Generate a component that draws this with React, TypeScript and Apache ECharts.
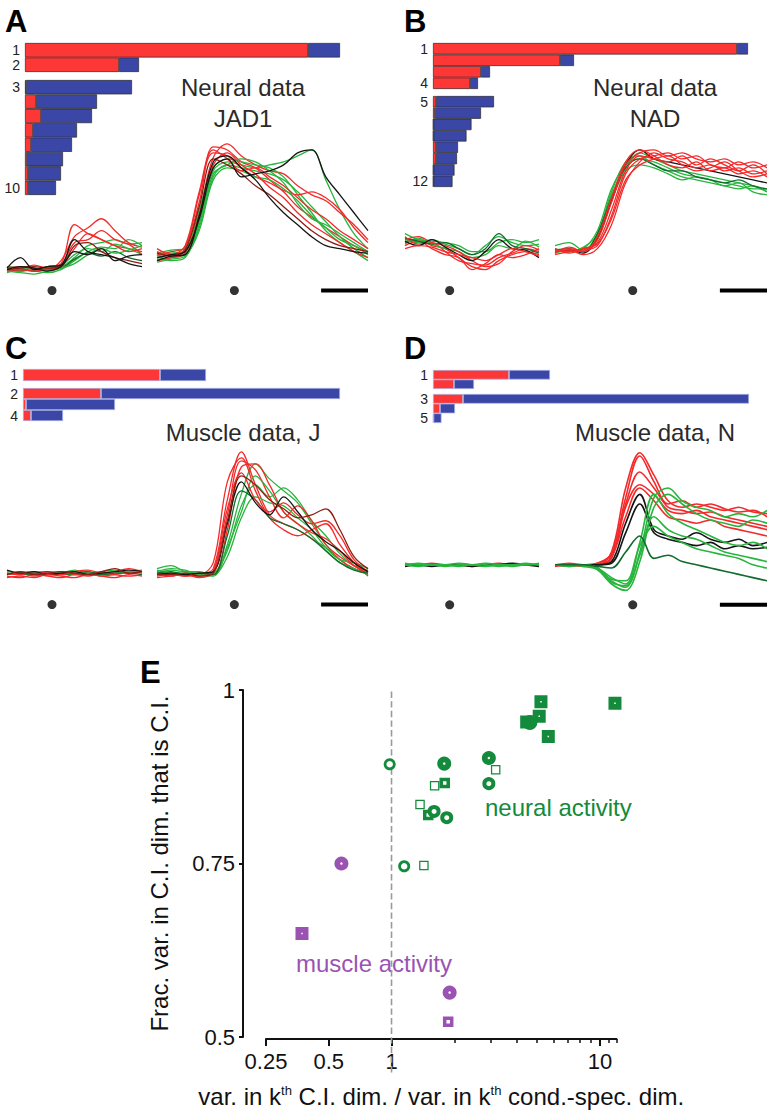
import React, { useEffect, useRef } from 'react';
import * as echarts from 'echarts';

const FONT = '"Liberation Sans", Arial, Helvetica, sans-serif';

// ---------------- Bar data (variance per dimension, arbitrary units) ----------------
const ranksA = ['1', '2', '3', '4', '5', '6', '7', '8', '9', '10'];
const redA = [283, 94, 1, 11, 16, 8, 6, 2, 3, 3];
const blueA = [32, 20, 106, 61, 51, 44, 41, 36, 33, 28];
const labeledA = ['1', '2', '3', '10'];

const ranksB = ['1', '2', '3', '4', '5', '6', '7', '8', '9', '10', '11', '12'];
const redB = [304, 127, 48, 37, 3, 2, 0.5, 0.5, 3, 3, 0.5, 0.5];
const blueB = [11, 14, 9, 8, 58, 46, 38, 33, 22, 21, 21, 19];
const labeledB = ['1', '4', '5', '12'];

const ranksC = ['1', '2', '3', '4'];
const redC = [137, 78, 3, 8];
const blueC = [46, 239, 89, 32];
const labeledC = ['1', '2', '4'];

const ranksD = ['1', '2', '3', '4', '5'];
const redD = [76, 21, 30, 7, 0.5];
const blueD = [41, 20, 286, 15, 8];
const labeledD = ['1', '3', '5'];

// ---------------- Trace data ----------------
const timeLeft = [-100, -70, -40, -10, 20, 50, 80, 110, 140, 170, 200];
const timeRight = [-165, -135, -105, -75, -45, -15, 15, 45, 75, 105, 135, 165, 195, 225, 255, 285];
const eventTime = 0;
const scaleBarTimes = [185, 285];

const traceAL: [string, number[]][] = [
  ['g', [11, 9, 10, 11, 12, 18, 26, 28, 30, 27, 28]],
  ['r', [11, 12, 10, 12, 14, 40, 34, 30, 26, 24, 22]],
  ['g', [8, 10, 9, 8, 10, 16, 22, 25, 24, 30, 26]],
  ['r', [10, 9, 11, 10, 16, 32, 38, 44, 36, 28, 25]],
  ['g', [12, 11, 10, 12, 13, 20, 24, 22, 27, 24, 20]],
  ['r', [12, 11, 13, 11, 13, 28, 30, 36, 30, 27, 20]],
  ['dg', [9, 10, 9, 10, 11, 17, 21, 19, 22, 18, 16]],
  ['r', [9, 10, 9, 10, 12, 24, 34, 30, 26, 22, 24]],
  ['g', [9, 8, 7, 9, 11, 14, 20, 24, 21, 23, 26]],
  ['dr', [10, 11, 12, 11, 12, 26, 28, 22, 18, 16, 14]],
  ['k', [11, 18, 10, 12, 13, 30, 22, 20, 18, 14, 12]],
  ['k', [10, 12, 11, 9, 12, 22, 20, 24, 16, 19, 20]],
];
const traceAR: [string, number[]][] = [
  ['g', [19, 21, 22, 42, 76, 82, 80, 78, 80, 82, 86, 90, 70, 50, 34, 24]],
  ['r', [20, 22, 25, 55, 92, 90, 82, 78, 70, 62, 52, 45, 38, 32, 26, 22]],
  ['g', [17, 18, 20, 38, 72, 80, 78, 76, 74, 70, 62, 52, 42, 32, 24, 18]],
  ['r', [18, 20, 22, 48, 85, 94, 86, 80, 76, 74, 66, 60, 56, 48, 40, 30]],
  ['g', [21, 23, 24, 50, 78, 84, 82, 80, 78, 72, 60, 48, 36, 28, 22, 16]],
  ['r', [22, 19, 24, 60, 88, 86, 78, 72, 68, 63, 60, 62, 58, 50, 38, 28]],
  ['g', [15, 17, 19, 36, 70, 78, 76, 72, 70, 64, 56, 46, 38, 30, 26, 20]],
  ['r', [16, 18, 21, 45, 80, 88, 80, 74, 65, 58, 48, 40, 34, 28, 22, 18]],
  ['g', [20, 16, 18, 40, 74, 80, 84, 82, 76, 68, 54, 44, 40, 34, 28, 22]],
  ['r', [24, 20, 26, 62, 90, 84, 76, 78, 72, 66, 58, 50, 44, 36, 30, 24]],
  ['dr', [21, 19, 23, 52, 84, 80, 74, 66, 60, 52, 44, 36, 30, 26, 24, 22]],
  ['k', [18, 20, 22, 44, 78, 84, 72, 74, 76, 80, 88, 90, 72, 60, 48, 36]],
  ['k', [16, 19, 20, 46, 82, 86, 78, 70, 58, 48, 40, 32, 26, 24, 22, 21]],
];
const traceBL: [string, number[]][] = [
  ['g', [30, 28, 30, 27, 24, 20, 26, 32, 28, 26, 27]],
  ['r', [28, 30, 26, 24, 18, 12, 10, 16, 20, 22, 20]],
  ['g', [34, 30, 29, 28, 26, 22, 22, 28, 30, 28, 30]],
  ['r', [32, 27, 28, 22, 16, 14, 13, 18, 21, 24, 22]],
  ['g', [27, 31, 27, 24, 22, 18, 20, 26, 24, 29, 25]],
  ['r', [26, 29, 24, 20, 18, 10, 14, 20, 18, 20, 24]],
  ['dg', [31, 29, 27, 28, 24, 20, 24, 34, 26, 24, 21]],
  ['r', [30, 32, 28, 26, 22, 16, 12, 14, 22, 26, 23]],
  ['k', [29, 26, 30, 25, 20, 16, 22, 30, 24, 23, 18]],
  ['r', [24, 26, 25, 22, 20, 18, 16, 20, 24, 22, 19]],
];
const traceBR: [string, number[]][] = [
  ['g', [26, 28, 23, 34, 62, 82, 86, 80, 76, 72, 70, 68, 66, 64, 66, 62]],
  ['g', [23, 22, 24, 36, 64, 80, 84, 82, 78, 74, 72, 70, 68, 66, 64, 64]],
  ['g', [21, 23, 22, 30, 56, 76, 80, 78, 74, 70, 72, 70, 66, 68, 62, 60]],
  ['g', [24, 22, 25, 33, 60, 78, 88, 84, 80, 76, 74, 72, 70, 68, 66, 62]],
  ['k', [22, 23, 21, 31, 56, 80, 90, 84, 82, 80, 78, 76, 74, 72, 70, 68]],
  ['dg', [23, 24, 22, 34, 58, 78, 84, 80, 76, 76, 72, 70, 68, 70, 66, 64]],
  ['r', [22, 24, 22, 30, 55, 80, 88, 90, 86, 88, 84, 82, 84, 80, 82, 78]],
  ['r', [20, 22, 23, 26, 46, 74, 84, 86, 88, 84, 86, 80, 78, 82, 78, 80]],
  ['r', [24, 21, 24, 28, 50, 76, 86, 84, 82, 86, 80, 84, 80, 76, 80, 74]],
  ['r', [22, 23, 20, 24, 40, 68, 82, 88, 84, 82, 78, 80, 76, 78, 74, 76]],
  ['r', [21, 25, 22, 32, 58, 82, 90, 86, 80, 78, 82, 76, 78, 74, 76, 72]],
  ['r', [23, 22, 24, 27, 44, 70, 80, 84, 86, 80, 76, 78, 82, 76, 72, 74]],
];
const traceCL: [string, number[]][] = [
  ['g', [10, 12, 11, 10, 11, 13, 11, 12, 13, 11, 12]],
  ['r', [10, 11, 9, 10, 12, 10, 11, 9, 10, 12, 11]],
  ['g', [12, 11, 10, 12, 11, 10, 12, 10, 11, 12, 13]],
  ['r', [9, 8, 10, 9, 8, 10, 9, 11, 10, 9, 10]],
  ['dg', [11, 10, 11, 12, 10, 11, 12, 10, 11, 11, 10]],
  ['r', [11, 10, 12, 11, 10, 12, 13, 11, 12, 14, 12]],
  ['k', [13, 11, 12, 10, 11, 12, 10, 11, 12, 13, 12]],
  ['r', [8, 9, 8, 10, 9, 8, 10, 9, 8, 10, 9]],
  ['dr', [10, 12, 10, 11, 12, 11, 10, 12, 14, 11, 12]],
];
const traceCR: [string, number[]][] = [
  ['g', [14, 16, 12, 11, 10, 30, 64, 84, 74, 66, 58, 44, 30, 20, 14, 12]],
  ['r', [10, 11, 9, 10, 14, 60, 92, 70, 50, 44, 40, 34, 28, 20, 14, 10]],
  ['g', [12, 14, 13, 10, 11, 26, 56, 70, 62, 68, 60, 46, 36, 24, 16, 13]],
  ['r', [9, 10, 10, 9, 12, 50, 86, 80, 62, 48, 56, 46, 30, 22, 16, 12]],
  ['g', [11, 13, 12, 12, 10, 22, 48, 62, 58, 56, 48, 40, 28, 20, 18, 14]],
  ['r', [11, 9, 11, 10, 18, 72, 88, 66, 48, 40, 36, 40, 44, 30, 18, 9]],
  ['g', [13, 11, 12, 10, 9, 28, 52, 76, 66, 52, 44, 36, 26, 18, 14, 10]],
  ['r', [10, 10, 9, 11, 10, 40, 82, 84, 70, 52, 44, 38, 34, 26, 16, 11]],
  ['dg', [11, 12, 10, 11, 10, 36, 66, 60, 48, 44, 40, 34, 26, 18, 13, 11]],
  ['r', [8, 9, 10, 8, 12, 54, 78, 60, 52, 58, 50, 44, 46, 36, 20, 12]],
  ['k', [10, 11, 10, 11, 12, 44, 72, 58, 50, 62, 52, 40, 32, 26, 18, 12]],
  ['dr', [10, 10, 11, 9, 11, 46, 76, 70, 60, 54, 48, 50, 54, 40, 22, 14]],
];
const traceDL: [string, number[]][] = [
  ['r', [22, 22, 23, 22, 22, 21, 22, 23, 22, 22, 22]],
  ['k', [21, 22, 21, 22, 22, 21, 22, 22, 23, 22, 21]],
  ['g', [22, 21, 22, 22, 23, 22, 21, 22, 22, 23, 22]],
  ['g', [23, 22, 22, 21, 22, 22, 23, 22, 21, 22, 22]],
  ['g', [22, 23, 22, 22, 21, 22, 22, 21, 22, 22, 23]],
];
const traceDR: [string, number[]][] = [
  ['r', [22, 22, 22, 22, 30, 70, 92, 78, 62, 58, 60, 58, 56, 58, 55, 54]],
  ['r', [22, 22, 21, 23, 28, 64, 90, 74, 60, 62, 58, 60, 57, 55, 56, 52]],
  ['r', [22, 23, 22, 22, 26, 58, 72, 66, 56, 54, 56, 52, 50, 48, 46, 44]],
  ['r', [21, 22, 22, 22, 27, 52, 70, 62, 52, 50, 48, 50, 46, 44, 42, 40]],
  ['r', [22, 21, 22, 23, 29, 60, 80, 70, 58, 56, 54, 55, 52, 50, 48, 46]],
  ['k', [22, 22, 22, 22, 24, 48, 66, 44, 40, 38, 42, 38, 36, 38, 34, 36]],
  ['k', [22, 22, 22, 22, 23, 42, 60, 42, 38, 36, 34, 36, 32, 34, 32, 33]],
  ['g', [22, 22, 22, 20, 12, 8, 30, 64, 70, 62, 58, 56, 52, 54, 52, 56]],
  ['g', [22, 22, 21, 19, 10, 6, 24, 58, 66, 60, 54, 50, 48, 46, 50, 48]],
  ['g', [22, 22, 22, 20, 14, 10, 36, 66, 54, 48, 44, 40, 36, 34, 36, 32]],
  ['g', [22, 21, 22, 19, 11, 9, 28, 52, 44, 40, 38, 34, 30, 28, 26, 24]],
  ['g', [22, 22, 22, 20, 13, 12, 34, 46, 40, 36, 32, 30, 28, 26, 22, 20]],
  ['dg', [22, 22, 22, 21, 20, 30, 40, 26, 28, 24, 22, 20, 18, 16, 14, 12]],
];

// ---------------- Panel E data ----------------
const neuralRatio = [0.98, 1.79, 2.93, 3.16, 2.93, 1.61, 1.8, 1.37, 1.6, 1.5, 1.84, 1.15, 1.43, 5.21, 5.11, 4.61, 4.45, 5.65, 11.8];
const neuralFrac = [0.893, 0.894, 0.902, 0.885, 0.865, 0.862, 0.866, 0.835, 0.825, 0.82, 0.816, 0.746, 0.747, 0.983, 0.962, 0.953, 0.954, 0.933, 0.981];
const neuralKind = ['cirOpen', 'cirRing', 'cirRing', 'sqOpen', 'cirWide', 'sqOpen', 'sqRing', 'sqOpen', 'cirWide', 'sqRing', 'cirWide', 'cirOpen', 'sqOpen', 'sqFill', 'sqFill', 'cirFill', 'sqFill', 'sqFill', 'sqFill'];
const muscleRatio = [0.575, 0.372, 1.9, 1.87];
const muscleFrac = [0.75, 0.649, 0.564, 0.522];
const muscleKind = ['cirRing', 'sqFill', 'cirRing', 'sqRing'];
const xTickValues = [0.25, 0.5, 1, 10];
const xTickLabels = ['0.25', '0.5', '1', '10'];
const xMinorTicks = [2, 3, 4, 5, 6, 7, 8, 9, 11, 12];
const xRange = [0.25, 12];
const yRange = [0.5, 1];
const yInterval = 0.25;
const refRatio = 1;

// ---------------- Styles / layout ----------------
const COLORS: Record<string, string> = { r: '#f42a2a', g: '#28b53e', k: '#151515', dr: '#8f1d14', dg: '#106b2d' };
const BAR_RED = '#fd3636';
const BAR_BLUE = '#3a47a6';
const GREEN = '#138a3c';
const PURPLE = '#9b53b3';

const KIND_STYLE: Record<string, { sym: string; D: number; h: number }> = {
  sqFill: { sym: 'rect', D: 13, h: 1.5 },
  sqRing: { sym: 'rect', D: 10.5, h: 3.5 },
  sqOpen: { sym: 'rect', D: 9.5, h: 7 },
  cirFill: { sym: 'circle', D: 15, h: 0 },
  cirRing: { sym: 'circle', D: 14, h: 2.5 },
  cirWide: { sym: 'circle', D: 13, h: 5 },
  cirOpen: { sym: 'circle', D: 12, h: 6.5 },
};

const barPanels = [
  { ranks: ranksA, red: redA, blue: blueA, labeled: labeledA, left: 25, border: '#2a2a2a', groups: [{ top: 43, height: 29, n: 2 }, { top: 80, height: 115, n: 8 }] },
  { ranks: ranksB, red: redB, blue: blueB, labeled: labeledB, left: 433, border: '#2a2a2a', groups: [{ top: 43, height: 46, n: 4 }, { top: 96, height: 91, n: 8 }] },
  { ranks: ranksC, red: redC, blue: blueC, labeled: labeledC, left: 23, border: '#a9b2e6', groups: [{ top: 369, height: 12, n: 1 }, { top: 388, height: 33, n: 3 }] },
  { ranks: ranksD, red: redD, blue: blueD, labeled: labeledD, left: 433, border: '#a9b2e6', groups: [{ top: 370, height: 19, n: 2 }, { top: 394, height: 29, n: 3 }] },
];

const segments = [
  { data: traceAL, time: timeLeft, left: 7, width: 135, top: 135, height: 160, ymin: -7, dotY: -4, bar: false, lw: 1.3 },
  { data: traceAR, time: timeRight, left: 157, width: 211, top: 135, height: 160, ymin: -7, dotY: -4, bar: true, lw: 1.3 },
  { data: traceBL, time: timeLeft, left: 405, width: 134, top: 135, height: 160, ymin: -7, dotY: -4, bar: false, lw: 1.3 },
  { data: traceBR, time: timeRight, left: 555, width: 212, top: 135, height: 160, ymin: -7, dotY: -4, bar: true, lw: 1.3 },
  { data: traceCL, time: timeLeft, left: 7, width: 135, top: 440, height: 175, ymin: -17, dotY: -10, bar: false, lw: 1.3 },
  { data: traceCR, time: timeRight, left: 157, width: 211, top: 440, height: 175, ymin: -17, dotY: -10, bar: true, lw: 1.3 },
  { data: traceDL, time: timeLeft, left: 405, width: 134, top: 440, height: 176, ymin: -10, dotY: -3, bar: false, lw: 1.6 },
  { data: traceDR, time: timeRight, left: 555, width: 212, top: 440, height: 176, ymin: -10, dotY: -3, bar: true, lw: 1.6 },
];

function buildOption() {
  const grid: any[] = [];
  const xAxis: any[] = [];
  const yAxis: any[] = [];
  const series: any[] = [];

  // bars
  barPanels.forEach((p) => {
    let start = 0;
    p.groups.forEach((gr) => {
      const gi = grid.length;
      grid.push({ left: p.left, top: gr.top, width: 330, height: gr.height });
      const xi = xAxis.length;
      xAxis.push({ gridIndex: gi, type: 'value', min: 0, max: 330, show: false });
      const yi = yAxis.length;
      const cats = p.ranks.slice(start, start + gr.n);
      yAxis.push({
        gridIndex: gi, type: 'category', inverse: true, data: cats,
        axisLine: { show: false }, axisTick: { show: false }, splitLine: { show: false },
        axisLabel: { interval: 0, margin: 5, fontSize: 14, lineHeight: 13, color: '#222', fontFamily: FONT, formatter: (v: string) => (p.labeled.includes(v) ? v : '') },
      });
      series.push({
        type: 'bar', xAxisIndex: xi, yAxisIndex: yi, stack: 'st' + gi, barCategoryGap: '0%',
        data: p.red.slice(start, start + gr.n),
        itemStyle: { color: BAR_RED, borderColor: p.border, borderWidth: 0.7 },
      });
      series.push({
        type: 'bar', xAxisIndex: xi, yAxisIndex: yi, stack: 'st' + gi, barCategoryGap: '0%',
        data: p.blue.slice(start, start + gr.n),
        itemStyle: { color: BAR_BLUE, borderColor: p.border, borderWidth: 0.7 },
      });
      start += gr.n;
    });
  });

  // traces
  segments.forEach((s) => {
    const gi = grid.length;
    grid.push({ left: s.left, top: s.top, width: s.width, height: s.height });
    const xi = xAxis.length;
    xAxis.push({ gridIndex: gi, type: 'value', min: s.time[0], max: s.time[s.time.length - 1], show: false });
    const yi = yAxis.length;
    yAxis.push({ gridIndex: gi, type: 'value', min: s.ymin, max: 100, show: false });
    s.data.forEach(([c, vals]) => {
      series.push({
        type: 'line', xAxisIndex: xi, yAxisIndex: yi, smooth: 0.35, showSymbol: false, symbol: 'none',
        data: vals.map((v, i) => [s.time[i], v]),
        lineStyle: { color: COLORS[c], width: s.lw }, silent: true,
      });
    });
    series.push({
      type: 'scatter', xAxisIndex: xi, yAxisIndex: yi, symbolSize: 9, clip: false,
      data: [[eventTime, s.dotY]], itemStyle: { color: '#000' },
    });
    if (s.bar) {
      series.push({
        type: 'line', xAxisIndex: xi, yAxisIndex: yi, symbol: 'none', clip: false,
        data: scaleBarTimes.map((t) => [t, s.dotY]), lineStyle: { color: '#000', width: 4, cap: 'butt' },
      });
    }
  });

  // panel E
  const gE = grid.length;
  grid.push({ left: 266, top: 690, width: 616.5 - 266, height: 347 });
  const lg = (v: number) => Math.log10(v);
  const xE = xAxis.length;
  xAxis.push({
    gridIndex: gE, type: 'value', position: 'bottom', min: lg(xRange[0]), max: lg(xRange[1]), offset: 2,
    axisLine: { show: true, onZero: false, lineStyle: { color: '#111', width: 2 } },
    axisTick: { show: true, customValues: xTickValues.map(lg), length: 7, lineStyle: { color: '#111', width: 2 } },
    axisLabel: {
      show: true, customValues: xTickValues.map(lg), fontSize: 22, margin: 11, color: '#111', fontFamily: FONT,
      formatter: (v: number) => {
        let best = 0;
        xTickValues.forEach((t, i) => { if (Math.abs(lg(t) - v) < Math.abs(lg(xTickValues[best]) - v)) best = i; });
        return xTickLabels[best];
      },
    },
    splitLine: { show: false },
    name: 'var. in k{s|th} C.I. dim. / var. in k{s|th} cond.-spec. dim.',
    nameLocation: 'middle', nameGap: 45,
    nameTextStyle: { fontSize: 24, color: '#111', fontFamily: FONT, rich: { s: { fontSize: 13, verticalAlign: 'top', fontFamily: FONT, color: '#111' } } },
  });
  xAxis.push({
    gridIndex: gE, type: 'value', position: 'bottom', min: lg(xRange[0]), max: lg(xRange[1]), offset: 2,
    axisLine: { show: false, onZero: false },
    axisTick: { show: true, customValues: xMinorTicks.map(lg), length: 4, lineStyle: { color: '#111', width: 1.5 } },
    axisLabel: { show: false }, splitLine: { show: false },
  });
  const yE = yAxis.length;
  yAxis.push({
    gridIndex: gE, type: 'value', position: 'left', min: yRange[0], max: yRange[1], interval: yInterval, offset: 23,
    axisLine: { show: true, onZero: false, lineStyle: { color: '#111', width: 2 } },
    axisTick: { show: true, length: 4, lineStyle: { color: '#111', width: 2 } },
    axisLabel: { fontSize: 22, margin: 8, color: '#111', fontFamily: FONT },
    splitLine: { show: false },
    name: 'Frac. var. in C.I. dim. that is C.I.', nameLocation: 'middle', nameRotate: 90, nameGap: 72,
    nameTextStyle: { fontSize: 24, color: '#111', fontFamily: FONT },
  });

  series.push({
    type: 'line', xAxisIndex: xE, yAxisIndex: yE, symbol: 'none', clip: false, silent: true,
    data: [[lg(refRatio), 0.449], [lg(refRatio), 1.0]],
    lineStyle: { color: '#9a9a9a', width: 1.6, type: 'dashed', dashOffset: 0 }, z: 1,
  });

  const addGroup = (xs: number[], ys: number[], kinds: string[], color: string) => {
    Object.keys(KIND_STYLE).forEach((k) => {
      const pts: number[][] = [];
      xs.forEach((x, i) => { if (kinds[i] === k) pts.push([lg(x), ys[i]]); });
      if (!pts.length) return;
      const st = KIND_STYLE[k];
      const filled = st.h === 0;
      series.push({
        type: 'scatter', xAxisIndex: xE, yAxisIndex: yE, clip: false, symbol: st.sym,
        symbolSize: filled ? st.D : (st.D + st.h) / 2, data: pts, z: 3,
        itemStyle: filled ? { color, opacity: 1 } : { color: '#fff', borderColor: color, borderWidth: (st.D - st.h) / 2, opacity: 1 },
      });
    });
  };
  addGroup(neuralRatio, neuralFrac, neuralKind, GREEN);
  addGroup(muscleRatio, muscleFrac, muscleKind, PURPLE);

  const txt = (text: string, x: number, y: number, size: number, fill: string, opts: any = {}) => ({
    type: 'text', x, y, silent: true,
    style: { text, fontSize: size, fontFamily: FONT, fill, align: opts.align || 'left', verticalAlign: 'middle', fontWeight: opts.bold ? 'bold' : 'normal', lineHeight: opts.lh || size * 1.2 },
  });

  const graphic = [
    txt('A', 5, 21, 31, '#000', { bold: true }),
    txt('B', 404, 21, 31, '#000', { bold: true }),
    txt('C', 5, 348, 31, '#000', { bold: true }),
    txt('D', 404, 348, 31, '#000', { bold: true }),
    txt('E', 140, 672, 31, '#000', { bold: true }),
    txt('Neural data\nJAD1', 243, 103, 24, '#2a2a2a', { align: 'center', lh: 31 }),
    txt('Neural data\nNAD', 655, 103, 24, '#2a2a2a', { align: 'center', lh: 31 }),
    txt('Muscle data, J', 243, 432, 24, '#2a2a2a', { align: 'center' }),
    txt('Muscle data, N', 655, 432, 24, '#2a2a2a', { align: 'center' }),
    txt('neural activity', 485, 807, 24, GREEN),
    txt('muscle activity', 296, 963, 24, PURPLE),
  ];

  return { animation: false, backgroundColor: '#fff', grid, xAxis, yAxis, series, graphic };
}

export default function App() {
  const ref = useRef<HTMLDivElement>(null);
  useEffect(() => {
    const chart = echarts.init(ref.current!, undefined, { renderer: 'svg' });
    chart.setOption(buildOption() as any);
    return () => chart.dispose();
  }, []);
  return <div ref={ref} style={{ position: 'absolute', left: 0, top: 0, width: 767, height: 1110, background: '#fff' }} />;
}
